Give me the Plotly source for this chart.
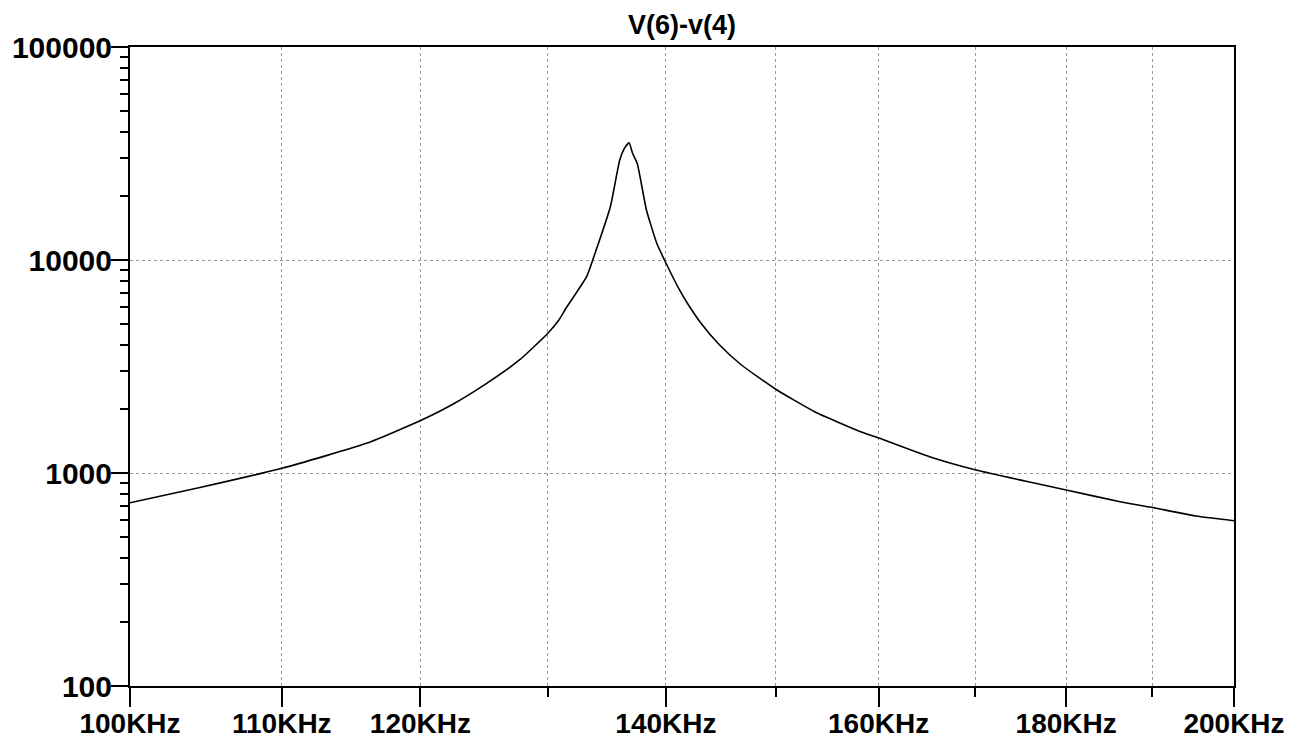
import plotly.graph_objects as go

# Frequency (Hz) and magnitude
freq_hz = [100000, 104490, 110000, 116000, 120100, 122500, 125100, 127700,
           130000, 130900, 131500, 133200, 134000, 135200, 136000, 136400,
           136800, 137100, 137500, 138300, 139200, 140000, 141200, 141900, 143100,
           144800, 146800, 150000, 153700, 158200, 160100, 165200, 170100, 175400,
           180000, 186200, 189900, 195300, 200000]
magnitude = [725, 855, 1052, 1378, 1774, 2109, 2637, 3393,
             4529, 5228, 5950, 8348, 11140, 17790, 29480, 33450,
             35540, 31690, 28440, 17170, 11980, 9680, 7233, 6262, 5061,
             3990, 3214, 2472, 1940, 1563, 1455, 1193, 1033, 917,
             832, 733, 690, 628, 597]

x_tick_vals = [100000, 110000, 120000, 140000, 160000, 180000, 200000]
x_tick_text = ["100KHz", "110KHz", "120KHz", "140KHz", "160KHz", "180KHz", "200KHz"]
x_minor_vals = [130000, 150000, 170000, 190000]
y_tick_vals = [100, 1000, 10000, 100000]
y_tick_text = ["100", "1000", "10000", "100000"]
y_minor_vals = [m * 10 ** e for e in (2, 3, 4) for m in range(2, 10)]

title_text = "V(6)-v(4)"

FONT = "Arial, Liberation Sans, sans-serif"
GRID = "#9a9a9a"

fig = go.Figure()
fig.add_trace(go.Scatter(x=freq_hz, y=magnitude, mode="lines",
                         line=dict(color="black", width=1.6, shape="spline", smoothing=0.5),
                         showlegend=False, hoverinfo="skip"))

fig.update_layout(
    width=1304, height=738,
    margin=dict(l=130, r=70, t=47, b=52, autoexpand=False),
    paper_bgcolor="white", plot_bgcolor="white",
    title=dict(text=title_text, x=0.5, xref="paper", xanchor="center",
               y=1 - 25 / 738, yref="container", yanchor="middle",
               font=dict(family=FONT, size=27, color="black", weight="bold")),
)

fig.update_xaxes(
    type="log", range=[5, 5.30103], automargin=False,
    tickmode="array", tickvals=x_tick_vals, ticktext=x_tick_text,
    ticks="outside", ticklen=19, tickwidth=2, tickcolor="black",
    ticklabelstandoff=-8,
    tickfont=dict(family=FONT, size=28, color="black", weight="bold"),
    showgrid=True, gridcolor=GRID, griddash="dot", gridwidth=1,
    minor=dict(tickmode="array", tickvals=x_minor_vals, ticks="outside",
               ticklen=9, tickwidth=2, tickcolor="black",
               showgrid=True, gridcolor=GRID, griddash="dot", gridwidth=1),
    showline=True, linecolor="black", linewidth=2, mirror=True,
    zeroline=False,
)

fig.update_yaxes(
    type="log", range=[2, 5], automargin=False,
    tickmode="array", tickvals=y_tick_vals, ticktext=y_tick_text,
    ticks="outside", ticklen=17, tickwidth=2, tickcolor="black",
    ticklabelstandoff=-7,
    tickfont=dict(family=FONT, size=30, color="black", weight="bold"),
    showgrid=True, gridcolor=GRID, griddash="dot", gridwidth=1,
    minor=dict(tickmode="array", tickvals=y_minor_vals, ticks="outside",
               ticklen=8, tickwidth=1.5, tickcolor="black", showgrid=False),
    showline=True, linecolor="black", linewidth=2, mirror=True,
    zeroline=False,
)

fig.write_html("out.html", config={"displayModeBar": False},
               post_script="document.body.style.margin='0';document.body.style.overflow='hidden';")
